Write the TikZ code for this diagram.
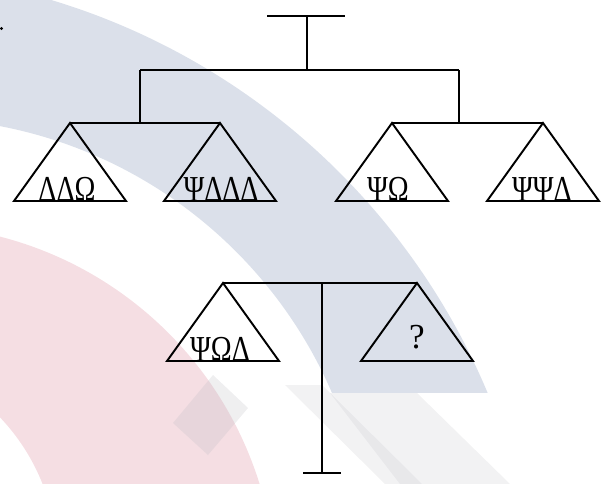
\documentclass[tikz,border=0pt]{standalone}
\usepackage{fontspec}
\setmainfont{Liberation Serif}
\usepackage{tikz}
\usetikzlibrary{positioning}
\definecolor{wmblue}{RGB}{219, 224, 234}
\definecolor{wmpink}{RGB}{245, 222, 227}
\definecolor{wmgrey}{RGB}{190, 190, 196}
\newcommand{\tallsym}[1]{\scalebox{1}[1.3]{#1}}

\begin{document}
\begin{tikzpicture}[
    x=0.02cm, y=-0.02cm,
    beam/.style={black, line width=1.1pt},
    pan/.style={black, line width=1.1pt, line join=miter},
    sym/.style={inner sep=0pt, anchor=base, font=\fontsize{16}{16}\selectfont},
    query/.style={inner sep=0pt, font=\fontsize{20}{20}\selectfont}
]
\useasboundingbox (0,0) rectangle (613,484);

% faint watermark behind the scales
\begin{scope}
  \clip (0,0) rectangle (613,484);
  \fill[wmpink, even odd rule] (-92,593) circle (368) (-150,560) circle (207);
\end{scope}
\begin{scope}
  \clip (0,0) rectangle (613,392);
  \fill[wmblue, even odd rule] (-147,659) circle (688) (-86,573) circle (455);
\end{scope}
\fill[wmgrey, opacity=0.25] (213,375) -- (248,408) -- (208,455) -- (173,423) -- cycle;
\fill[wmgrey, opacity=0.2] (285,385) -- (322,385) -- (422,484) -- (385,484) -- cycle;
\fill[wmgrey, opacity=0.2] (330,393) -- (417,393) -- (510,484) -- (400,484) -- cycle;
\fill (1.5,28.5) circle (1.6);

% stand and beams
\coordinate (capL) at (267,16);
\coordinate (capR) at (345,16);
\coordinate (hub) at (307,70);
\coordinate (armL) at (140,70);
\coordinate (armR) at (459,70);
\coordinate (dropL) at (140,123);
\coordinate (dropR) at (459,123);
\coordinate (p1) at (70,123);
\coordinate (p2) at (220,123);
\coordinate (p3) at (392,123);
\coordinate (p4) at (543,123);
\coordinate (p5) at (223,283);
\coordinate (p6) at (417,283);
\coordinate (post) at (322,283);
\coordinate (foot) at (322,473);
\coordinate (footL) at (303,473);
\coordinate (footR) at (341,473);

\draw[beam] (capL) -- (capR);
\draw[beam] (hub |- capL) -- (hub);
\draw[beam] (armL) -- (armR);
\draw[beam] (armL) -- (dropL);
\draw[beam] (armR) -- (dropR);
\draw[beam] (p1) -- (p2);
\draw[beam] (p3) -- (p4);
\draw[beam] (p5) -- (p6);
\draw[beam] (post) -- (foot);
\draw[beam] (footL) -- (footR);

% pans
\foreach \i in {1,...,6}
    \draw[pan] (p\i) -- ++(56,78) -- ++(-112,0) -- cycle;

\node[sym] (w1) at (67,201) {\tallsym{ΔΔΩ}};
\node[sym] (w2) at (221,201) {\tallsym{ΨΔΔΔ}};
\node[sym] (w3) at (388,201) {\tallsym{ΨΩ}};
\node[sym] (w4) at (542,201) {\tallsym{ΨΨΔ}};
\node[sym] (w5) at (220,361) {\tallsym{ΨΩΔ}};
\node[query] (w6) at (417,337) {?};

\end{tikzpicture}
\end{document}
